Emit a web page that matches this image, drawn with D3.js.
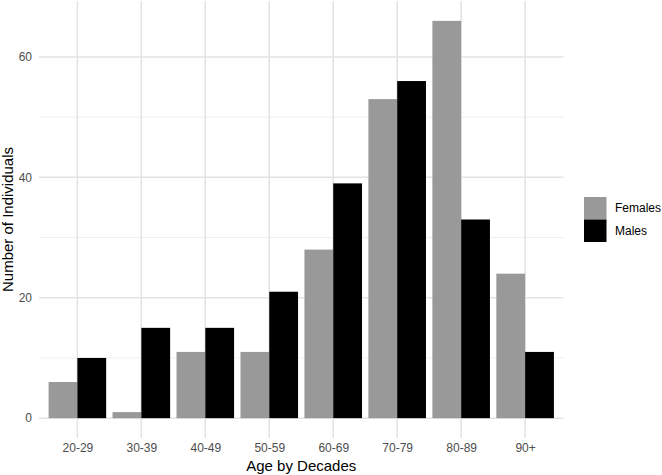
<!DOCTYPE html>
<html lang="en">
<head>
<meta charset="UTF-8">
<title>Age by Decades</title>
<script src="https://d3js.org/d3.v7.min.js"></script>
<style>
  body { margin: 0; background: #fff; }
  text { font-family: "Liberation Sans", Arial, Helvetica, sans-serif; }
</style>
</head>
<body>
<div id="chart"></div>
<script>
    const categories = ["20-29", "30-39", "40-49", "50-59", "60-69", "70-79", "80-89", "90+"];
    const groups = ["Females", "Males"];
    const females = [6, 1, 11, 11, 28, 53, 66, 24];
    const males = [10, 15, 15, 21, 39, 56, 33, 11];
    const yTicks = [0, 20, 40, 60];
    const yMinor = [10, 30, 50];

    const width = 662;
    const height = 475;
    const panel = { left: 39, right: 563.5, top: 1, bottom: 438 };
    const colors = { Females: "#999999", Males: "#000000" };

    const svg = d3.select("#chart")
        .append("svg")
        .attr("width", width)
        .attr("height", height);

    // ggplot-style expansion: 0.6 units on discrete x, 5% on y
    const n = categories.length;
    const step = (panel.right - panel.left) / (n - 1 + 1.2);
    const x = d3.scalePoint()
        .domain(categories)
        .range([panel.left + 0.6 * step, panel.right - 0.6 * step]);

    const yMax = d3.max(females.concat(males));
    const y = d3.scaleLinear()
        .domain([-yMax * 0.05, yMax * 1.05])
        .range([panel.bottom, panel.top]);

    const grid = svg.append("g");
    grid.selectAll(".minor")
        .data(yMinor)
        .enter().append("line")
        .attr("x1", panel.left).attr("x2", panel.right)
        .attr("y1", d => y(d)).attr("y2", d => y(d))
        .attr("stroke", "#ebebeb").attr("stroke-width", 0.8);
    grid.selectAll(".major")
        .data(yTicks)
        .enter().append("line")
        .attr("x1", panel.left).attr("x2", panel.right)
        .attr("y1", d => y(d)).attr("y2", d => y(d))
        .attr("stroke", "#e3e3e3").attr("stroke-width", 1.5);
    grid.selectAll(".vmajor")
        .data(categories)
        .enter().append("line")
        .attr("x1", d => x(d)).attr("x2", d => x(d))
        .attr("y1", panel.top).attr("y2", panel.bottom)
        .attr("stroke", "#e3e3e3").attr("stroke-width", 1.5);

    const sub = d3.scaleBand()
        .domain(groups)
        .range([-0.45 * step, 0.45 * step]);

    const rows = categories.map((c, i) => ({ cat: c, values: [
        { key: "Females", value: females[i] },
        { key: "Males", value: males[i] }
    ]}));

    svg.append("g").selectAll("g")
        .data(rows)
        .enter().append("g")
        .attr("transform", d => `translate(${x(d.cat)},0)`)
        .selectAll("rect")
        .data(d => d.values)
        .enter().append("rect")
        .attr("x", d => sub(d.key))
        .attr("width", sub.bandwidth())
        .attr("y", d => y(d.value))
        .attr("height", d => y(0) - y(d.value))
        .attr("fill", d => colors[d.key]);

    // axes
    const yAxis = svg.append("g")
        .attr("transform", `translate(${panel.left},0)`)
        .call(d3.axisLeft(y).tickValues(yTicks).tickSize(0).tickPadding(7));
    yAxis.select(".domain").remove();
    yAxis.selectAll("text").attr("font-size", 12).attr("fill", "#4d4d4d");

    const xAxis = svg.append("g")
        .attr("transform", `translate(0,${panel.bottom})`)
        .call(d3.axisBottom(x).tickSize(0).tickPadding(5));
    xAxis.select(".domain").remove();
    xAxis.selectAll("text").attr("font-size", 12).attr("fill", "#4d4d4d");

    svg.append("text")
        .attr("x", (panel.left + panel.right) / 2)
        .attr("y", 471)
        .attr("text-anchor", "middle")
        .attr("font-size", 15)
        .attr("fill", "#000")
        .text("Age by Decades");

    svg.append("text")
        .attr("transform", `translate(13,${(panel.top + panel.bottom) / 2}) rotate(-90)`)
        .attr("text-anchor", "middle")
        .attr("font-size", 15)
        .attr("fill", "#000")
        .text("Number of Individuals");

    // legend
    const legend = svg.append("g").attr("transform", "translate(584,197)");
    legend.selectAll("rect")
        .data(groups)
        .enter().append("rect")
        .attr("x", 0)
        .attr("y", (d, i) => i * 22.5)
        .attr("width", 22.5)
        .attr("height", 22.5)
        .attr("fill", d => colors[d]);
    legend.selectAll("text")
        .data(groups)
        .enter().append("text")
        .attr("x", 31)
        .attr("y", (d, i) => i * 22.5 + 11.25)
        .attr("dy", "0.35em")
        .attr("font-size", 12)
        .attr("fill", "#000")
        .text(d => d);
</script>
</body>
</html>
